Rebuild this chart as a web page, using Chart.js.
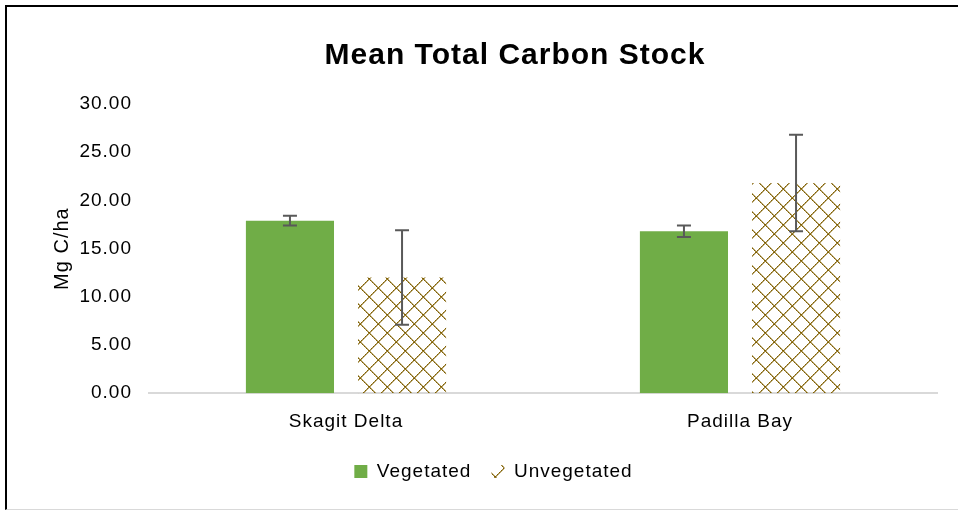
<!DOCTYPE html>
<html>
<head>
<meta charset="utf-8">
<script src="https://cdn.jsdelivr.net/npm/chart.js@4"></script>
<style>
  html, body { margin: 0; padding: 0; background: #fff; }
  #wrap { position: relative; width: 958px; height: 511px; }
  #frame {
    position: absolute; left: 5px; top: 5px; right: 0; bottom: 1px;
    border-left: 2px solid #000; border-top: 2px solid #000; border-bottom: 1px solid #d9d9d9;
    pointer-events: none;
  }
</style>
</head>
<body>
<div id="wrap">
  <canvas id="myChart" width="958" height="511"></canvas>
  <div id="frame"></div>
</div>
<script>
// Chart data
const categories = ['Skagit Delta', 'Padilla Bay'];
const vegetated = [17.9, 16.8];
const vegetatedErr = [0.5, 0.6];
const unvegetated = [12.0, 21.8];
const unvegetatedErr = [4.9, 5.0];
const yTicks = [0, 5, 10, 15, 20, 25, 30];

// Dotted diamond pattern like the Excel fill
function makePattern() {
  const c = document.createElement('canvas');
  c.width = 18;
  c.height = 18;
  const g = c.getContext('2d');
  for (let i = 0; i < 18; i++) {
    g.fillStyle = i % 2 ? '#a08440' : '#7f6000';
    g.fillRect(i, i, 1, 1);
    g.fillRect(17 - i, i, 1, 1);
    g.fillStyle = 'rgba(127, 96, 0, 0.55)';
    g.fillRect((i + 1) % 18, i, 1, 1);
    g.fillRect((18 - i) % 18, i, 1, 1);
  }
  return document.getElementById('myChart').getContext('2d').createPattern(c, 'repeat');
}
const pattern = makePattern();

// Wider letter spacing, closer to the original Helvetica text
const spacing = {
  id: 'spacing',
  beforeLayout(chart) { chart.ctx.letterSpacing = '1px'; },
  beforeDraw(chart) { chart.ctx.letterSpacing = '1px'; }
};

// Draws the error bars from the y scale
const errorBars = {
  id: 'errorBars',
  afterDatasetsDraw(chart) {
    const ctx = chart.ctx;
    const y = chart.scales.y;
    chart.data.datasets.forEach((ds, di) => {
      const meta = chart.getDatasetMeta(di);
      meta.data.forEach((bar, i) => {
        const v = ds.data[i];
        const e = ds.errors[i];
        const top = y.getPixelForValue(v + e);
        const bot = y.getPixelForValue(v - e);
        ctx.save();
        ctx.strokeStyle = '#595959';
        ctx.lineWidth = 2;
        ctx.beginPath();
        ctx.moveTo(bar.x, top);
        ctx.lineTo(bar.x, bot);
        ctx.moveTo(bar.x - 7, top);
        ctx.lineTo(bar.x + 7, top);
        ctx.moveTo(bar.x - 7, bot);
        ctx.lineTo(bar.x + 7, bot);
        ctx.stroke();
        ctx.restore();
      });
    });
  }
};

// Title drawn a bit right of centre, as in the original
const chartTitle = {
  id: 'chartTitle',
  afterDraw(chart) {
    const ctx = chart.ctx;
    ctx.save();
    ctx.letterSpacing = '1px';
    ctx.font = 'bold 30px "Liberation Sans", Arial, sans-serif';
    ctx.fillStyle = '#000';
    ctx.textAlign = 'center';
    ctx.textBaseline = 'middle';
    ctx.fillText('Mean Total Carbon Stock', 515, 56);
    ctx.restore();
  }
};

Chart.defaults.font.family = '"Liberation Sans", Arial, sans-serif';
Chart.defaults.color = '#000';

new Chart(document.getElementById('myChart'), {
  type: 'bar',
  data: {
    labels: categories,
    datasets: [
      {
        label: 'Vegetated',
        data: vegetated,
        errors: vegetatedErr,
        backgroundColor: '#70ad47',
        categoryPercentage: 0.569,
        barPercentage: 0.786
      },
      {
        label: 'Unvegetated',
        data: unvegetated,
        errors: unvegetatedErr,
        backgroundColor: pattern,
        categoryPercentage: 0.569,
        barPercentage: 0.786
      }
    ]
  },
  options: {
    responsive: false,
    animation: false,
    layout: { padding: { left: 50, right: 21, top: 104, bottom: 20 } },
    scales: {
      y: {
        min: 0,
        max: 30,
        afterBuildTicks: (axis) => { axis.ticks = yTicks.map(v => ({ value: v })); },
        afterFit: (axis) => { axis.width = 99; },
        ticks: {
          font: { size: 19 },
          padding: 9,
          callback: (v) => Number(v).toFixed(2)
        },
        grid: { display: false },
        border: { display: false },
        title: { display: true, text: 'Mg C/ha', font: { size: 20 }, padding: { top: 0, bottom: 0 } }
      },
      x: {
        ticks: { font: { size: 19 }, padding: 9 },
        grid: { display: false },
        border: { display: true, color: '#d9d9d9', width: 2 }
      }
    },
    plugins: {
      legend: {
        position: 'bottom',
        labels: { font: { size: 19 }, boxWidth: 13, boxHeight: 13, padding: 20 }
      },
      tooltip: { enabled: false }
    }
  },
  plugins: [spacing, errorBars, chartTitle]
});
</script>
</body>
</html>
